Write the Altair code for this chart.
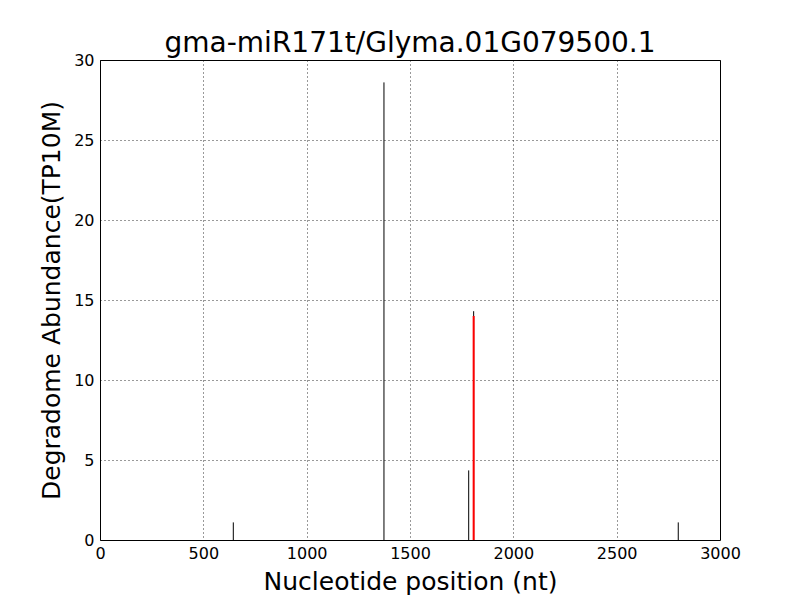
import altair as alt
import pandas as pd

positions = [645, 1374, 1784, 1808, 2798]
abundance = [1.1, 28.6, 4.35, 14.3, 1.1]
red_pos = [1808]
red_val = [14.0]

df = pd.DataFrame({"pos": positions, "val": abundance})
dr = pd.DataFrame({"pos": red_pos, "val": red_val})

xs = alt.Scale(domain=[0, 3000], nice=False, zero=False)
ys = alt.Scale(domain=[0, 30], nice=False)

base = alt.Chart(df).mark_rule(color="black", strokeWidth=1).encode(
    x=alt.X("pos:Q", scale=xs, title="Nucleotide position (nt)",
            axis=alt.Axis(values=[0, 500, 1000, 1500, 2000, 2500, 3000], format="d")),
    y=alt.Y("val:Q", scale=ys, title="Degradome Abundance(TP10M)",
            axis=alt.Axis(values=[0, 5, 10, 15, 20, 25, 30], format="d")),
    y2=alt.datum(0),
)

red = alt.Chart(dr).mark_rule(color="red", strokeWidth=2).encode(
    x=alt.X("pos:Q", scale=xs),
    y=alt.Y("val:Q", scale=ys),
    y2=alt.datum(0),
)

chart = alt.layer(base, red).properties(
    width=620, height=480,
    title=alt.TitleParams("gma-miR171t/Glyma.01G079500.1", fontSize=28,
                          font="DejaVu Sans", fontWeight="normal", offset=-6,
                          frame="group", anchor="middle", color="black"),
    autosize=alt.AutoSizeParams(type="none"),
    padding={"left": 92, "top": 52, "right": 72, "bottom": 58},
).configure_view(
    stroke="black", strokeWidth=1
).configure_axis(
    grid=True, gridDash=[1, 3], gridColor="black", gridOpacity=0.8,
    domain=False, ticks=False, labelFlush=False,
    labelFont="DejaVu Sans", labelFontSize=16, labelColor="black",
    titleFont="DejaVu Sans", titleFontSize=25, titleFontWeight="normal",
    titleColor="black",
).configure_axisX(
    titlePadding=8, labelPadding=5
).configure_axisY(
    titlePadding=9, labelPadding=6
)

chart.save("out.html", embed_options={"renderer": "svg", "actions": False})
